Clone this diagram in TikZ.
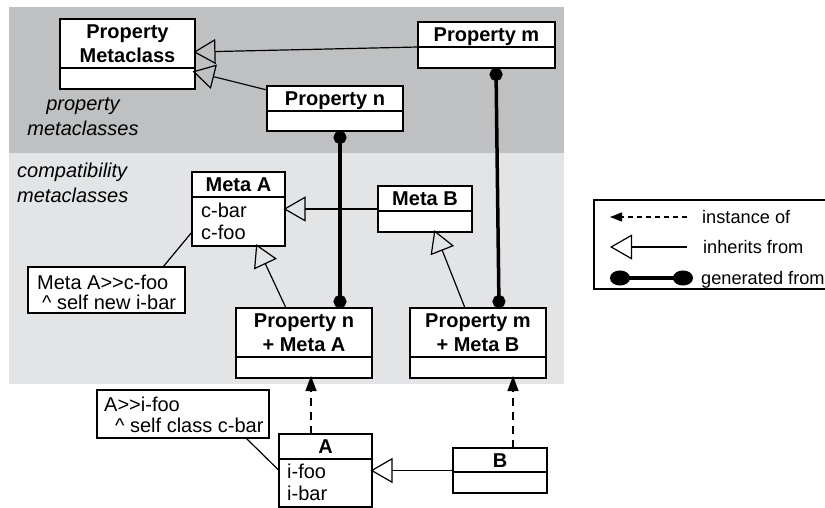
\documentclass[tikz,border=0pt]{standalone}
\usepackage{fontspec}
\setmainfont{Liberation Sans}
\usetikzlibrary{arrows.meta,fit,calc}
\definecolor{darkbg}{RGB}{191,192,193}
\definecolor{lightbg}{RGB}{227,228,230}
\tikzset{
  box/.style={draw, line width=1.3pt, inner sep=0pt, outer sep=0pt, fill=white},
  ttl/.style={font=\fontsize{20}{24}\selectfont\bfseries, inner sep=0pt, anchor=base},
  txt/.style={font=\fontsize{20}{24}\selectfont, inner sep=0pt, anchor=base west},
  legtxt/.style={font=\fontsize{18.2}{22}\selectfont, inner sep=0pt, anchor=base west},
  lbl/.style={font=\fontsize{20}{24}\selectfont\itshape, inner sep=0pt},
  inh/.style={line width=1.2pt, -{Triangle[open, length=22pt, width=25pt, line width=1.2pt]}},
  inst/.style={line width=1.4pt, dash pattern=on 8pt off 6pt, -{Triangle[length=15pt, width=11pt]}},
  gen/.style={line width=3.5pt, {Circle[length=13pt]}-{Circle[length=13pt]}},
  lnk/.style={line width=1.2pt},
}
% name, x1, y1, x2, y2, ydiv
\newcommand\umlbox[6]{%
  \node[box, fit={(#2,#3) (#4,#5)}] (#1) {};
  \draw[line width=1.3pt] (#2,#6) -- (#4,#6);
}
\begin{document}
\begin{tikzpicture}[x=1pt, y=-1pt]
\useasboundingbox (0,0) rectangle (825,508);
% backgrounds
\fill[darkbg] (9,7) rectangle (564,153);
\fill[lightbg] (9,153) rectangle (564,384);

% labels
\node[lbl, anchor=base] (l1) at (83,111) {property};
\node[lbl, anchor=base] (l2) at (83,136) {metaclasses};
\node[lbl, anchor=base west] (l3) at (17,178) {compatibility};
\node[lbl, anchor=base west] (l4) at (17,202) {metaclasses};

% classes
\umlbox{pmc}{60}{19}{195}{89}{68}
\node[ttl] (pmct1) at (127.5,39) {Property};
\node[ttl] (pmct2) at (127.5,63) {Metaclass};
\umlbox{pm}{418}{22}{555}{68}{47}
\node[ttl] (pmt) at (486.5,41.5) {Property m};
\umlbox{pn}{267}{86}{403}{131}{111}
\node[ttl] (pnt) at (335,105.5) {Property n};
\umlbox{ma}{192}{172}{285}{246}{197}
\node[ttl] (mat) at (238.5,191.5) {Meta A};
\node[txt] (maa1) at (201,217) {c-bar};
\node[txt] (maa2) at (201,240) {c-foo};
\umlbox{mb}{378}{186}{472}{232}{211}
\node[ttl] (mbt) at (425,205.5) {Meta B};
\umlbox{pnma}{236}{308}{372}{378}{357}
\node[ttl] (pnmat1) at (304,327) {Property n};
\node[ttl] (pnmat2) at (304,351) {+ Meta A};
\umlbox{pmmb}{410}{308}{546}{378}{357}
\node[ttl] (pmmbt1) at (478,327) {Property m};
\node[ttl] (pmmbt2) at (478,351) {+ Meta B};
\umlbox{a}{279}{434}{372}{507}{459}
\node[ttl] (at) at (325.5,453.5) {A};
\node[txt] (aa1) at (287,478) {i-foo};
\node[txt] (aa2) at (287,500) {i-bar};
\umlbox{b}{453}{448}{547}{493}{472}
\node[ttl] (bt) at (500,467) {B};

% notes
\node[box, fit={(28,267) (185,313)}] (n1) {};
\node[txt] (n1a) at (37,289) {Meta A>{}>c-foo};
\node[txt] (n1b) at (42,309) {\textasciicircum{} self new i-bar};
\node[box, fit={(97,390) (269,438)}] (n2) {};
\node[txt] (n2a) at (104,411) {A>{}>i-foo};
\node[txt] (n2b) at (115,432) {\textasciicircum{} self class c-bar};

% generated from
\draw[gen] ([xshift=5pt]pn.south) -- ([xshift=36pt]pnma.north);
\draw[gen] ([xshift=9.5pt]pm.south) -- ([xshift=21pt]pmmb.north);

% inheritance
\draw[inh, shorten >=-1.5pt] (pm.west |- 0,47) -- ([yshift=2pt]pmc.east);
\draw[inh, shorten >=-2.5pt] ([yshift=-4pt]pn.north west) -- ([yshift=-18pt]pmc.east);
\draw[inh, shorten >=-1.5pt] (mb) -- (ma);
\draw[inh, shorten >=-2pt] ([xshift=-18pt]pnma.north) -- ([xshift=18.5pt]ma.south);
\draw[inh, shorten >=-2pt] ([xshift=-13pt]pmmb.north) -- ([xshift=10pt]mb.south);
\draw[inh, shorten >=-1.5pt] (b) -- (a);

% instance of
\draw[inst, shorten >=-2pt] ([xshift=-14.5pt]a.north) -- ([xshift=-14.5pt]a.north |- pnma.south);
\draw[inst, shorten >=-2pt] ([xshift=13pt]b.north) -- ([xshift=13pt]b.north |- pmmb.south);

% note links
\draw[lnk] ([xshift=-22pt]n1.north east) -- ([yshift=14pt]ma.south west);
\draw[lnk] ([xshift=-23pt]n2.south east) -- (a.west);

% legend
\node[box, fit={(594,200) (830,289)}] (leg) {};
\coordinate (i1) at (687,217);
\coordinate (i2) at (610,217);
\draw[line width=1.3pt, dash pattern=on 5pt off 4pt, -{Triangle[length=12pt, width=9pt]}] (i1) -- (i2);
\node[legtxt] (lgi) at (702,223) {instance of};
\coordinate (h1) at (687,247);
\coordinate (h2) at (610,247);
\draw[inh] (h1) -- (h2);
\node[legtxt] (lgh) at (703,253) {inherits from};
\coordinate (g1) at (610,278);
\coordinate (g2) at (693,278);
\draw[line width=3.5pt, {Circle[length=20pt, width=15pt]}-{Circle[length=20pt, width=15pt]}] (g1) -- (g2);
\node[legtxt] (lgg) at (701,284) {generated from};
\end{tikzpicture}
\end{document}
